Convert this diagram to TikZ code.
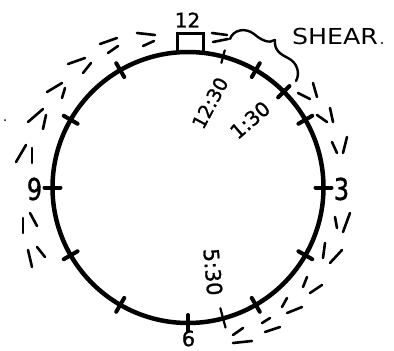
\documentclass[tikz,border=0pt]{standalone}
\usepackage{fontspec}
\setmainfont{DejaVu Sans}
\newfontfamily\handfont[FakeBold=1.2]{DejaVu Sans}
\begin{document}
\begin{tikzpicture}[x=1pt,y=1pt,
  rim/.style={line width=4.5pt},
  hourtick/.style={line width=4pt,line cap=round},
  thintick/.style={line width=2.2pt,line cap=round},
  shearmark/.style={line width=2.6pt,line cap=round},
  lbl/.style={inner sep=0pt,text=black},
  brace/.style={line width=2.4pt,line cap=round}]
\useasboundingbox (0,0) rectangle (394,-351);
\coordinate (C) at (188,-187.5);
% dial
\draw[rim] (C) circle (135.5);
% hour ticks (clock angle -> math angle 90-a)
\foreach \a in {30,45,60,90,120,150,180,210,240,270,300,330}
  \draw[hourtick] (C) ++({90-\a}:127.5) -- ++({90-\a}:16);
% thin ticks at 12:30 and 5:30
\draw[thintick] (C) ++(75:129) -- ++(75:13);
\draw[thintick] (C) ++(-75:125) -- ++(-75:20);
% box at 12
\draw[line width=3pt] (177,-52) rectangle (203,-33);
% numerals
\node[lbl,font=\handfont\fontsize{20}{24}\selectfont] (n12) at (187.5,-20) {12};
\node[lbl,font=\handfont\fontsize{30}{34}\selectfont,xscale=0.8] (n9) at (34.5,-189) {9};
\node[lbl,font=\handfont\fontsize{30}{34}\selectfont,xscale=0.8] (n3) at (341.5,-189) {3};
\node[lbl,font=\handfont\fontsize{21}{24}\selectfont] (n6) at (188.5,-338.5) {6};
% time labels
\node[lbl,font=\handfont\fontsize{19}{21}\selectfont,rotate=62] (t1230) at (210,-103) {12:30};
\node[lbl,font=\handfont\fontsize{20}{22}\selectfont,rotate=41] (t130) at (250,-120) {1:30};
\node[lbl,font=\handfont\fontsize{21}{23}\selectfont,rotate=-85] (t530) at (213,-272) {5:30};
% SHEAR label and brace
\node[lbl,font=\fontsize{22}{24}\selectfont,xscale=1.15] (shear) at (335,-36.5) {SHEAR};
\fill (382,-43) circle (1.2);
\draw[brace] (230,-39) .. controls (233,-30) and (245,-27) .. (254,-34)
  .. controls (261,-40) and (269,-44) .. (275,-40);
\draw[brace] (275,-40) .. controls (274,-50) and (280,-54) .. (288,-58)
  .. controls (298,-63) and (300,-74) .. (296,-81);
% stray speck
\fill (5,-120) circle (1);
% shear strokes
\foreach \x/\y/\u/\v in {
  137/33/155/35, 143/46/154/41, 100/44/117/38, 108/53/118/46,
  68/64/85/58, 83/73/91/63, 47/92/62/83, 62/98/65/88,
  28/122/43/109, 43/129/46/115, 16/162/26/145, 32/163/32/148,
  23/218/23/233, 30/213/37/226, 28/250/32/267, 37/247/45/257,
  212/33/227/35, 213/42/228/39,
  298/93/310/99, 313/83/317/97, 317/115/327/122, 330/108/333/122,
  332/142/337/153, 347/137/343/153, 335/217/337/228, 350/213/343/232,
  325/243/323/258, 342/250/330/263, 307/277/303/287, 322/285/310/293,
  287/298/282/307, 302/307/287/313, 270/318/262/323, 280/327/265/332,
  243/328/233/335, 252/341/233/343}
  \draw[shearmark] (\x,-\y) -- (\u,-\v);
\end{tikzpicture}
\end{document}
